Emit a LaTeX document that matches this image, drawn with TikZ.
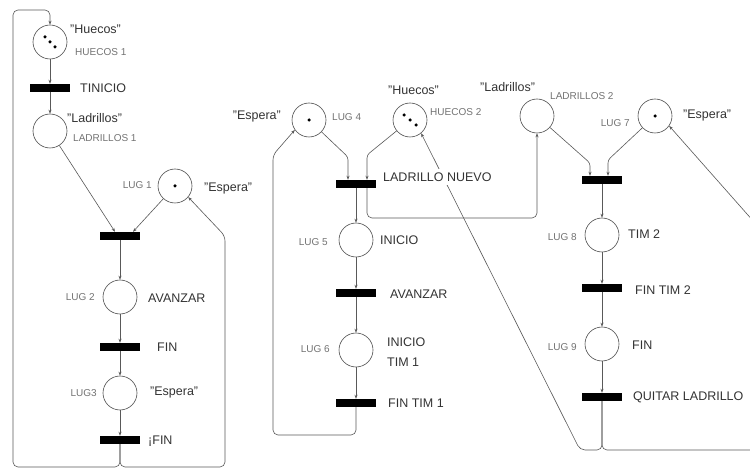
\documentclass[tikz,border=0pt]{standalone}
\usepackage{fontspec}
\setmainfont{Liberation Sans}
\usetikzlibrary{arrows.meta}
\begin{document}
\begin{tikzpicture}[x=1pt,y=-1pt,
 place/.style={circle,draw=black!70,line width=0.6pt,minimum size=34pt,inner sep=0pt},
 trans/.style={rectangle,fill=black,minimum width=40pt,minimum height=8pt,inner sep=0pt},
 arc/.style={draw=black!65,line width=0.6pt,-{Stealth[length=4pt,width=3pt]}},
 lbl/.style={font=\fontsize{12.5}{20}\selectfont,text=black!80,inner sep=0pt},
 sml/.style={font=\fontsize{10}{12}\selectfont,text=black!55,inner sep=0pt},
 tok/.style={circle,fill=black,inner sep=0pt,minimum size=3.5pt}]
\clip (0,0) rectangle (750,470);
\fill[white] (0,0) rectangle (750,470);
% left column
\node[place] (H1) at (50,42) {};
\node[trans] (T0) at (50,88) {};
\node[place] (L1) at (50,131) {};
\node[place] (P1) at (175,186) {};
\node[trans] (T1) at (120,236) {};
\node[place] (P2) at (120,297) {};
\node[trans] (T2) at (120,347) {};
\node[place] (P3) at (120,393) {};
\node[trans] (T3) at (120,440) {};
% middle column
\node[place] (P4) at (309,120) {};
\node[place] (H2) at (410,120) {};
\node[trans] (T4) at (356,184) {};
\node[place] (P5) at (356,240) {};
\node[trans] (T5) at (356,293) {};
\node[place] (P6) at (356,350) {};
\node[trans] (T6) at (356,403) {};
% right column
\node[place] (L2) at (537,116) {};
\node[place] (P7) at (655,116) {};
\node[trans] (T7) at (602,180) {};
\node[place] (P8) at (602,235) {};
\node[trans] (T8) at (602,288) {};
\node[place] (P9) at (602,344) {};
\node[trans] (T9) at (602,397) {};
% tokens
\node[tok] (k1) at (45,37) {};
\node[tok] (k2) at (50,42) {};
\node[tok] (k3) at (55,47) {};
\node[tok] (k4) at (404,115) {};
\node[tok] (k5) at (410,120) {};
\node[tok] (k6) at (416,125) {};
\node[tok] (k7) at (175,186) {};
\node[tok] (k8) at (309,120) {};
\node[tok] (k9) at (655,116) {};
% arcs left
\draw[arc] (H1) -- (T0);
\draw[arc] (T0) -- (L1);
\draw[arc] (L1) -- ([xshift=-5pt]T1.north);
\draw[arc] (P1) -- ([xshift=13pt]T1.north);
\draw[arc] (T1) -- (P2);
\draw[arc] (P2) -- (T2);
\draw[arc] (T2) -- (P3);
\draw[arc] (P3) -- (T3);
\draw[arc,rounded corners=5pt] (T3.south) |- (13,467) |- (50,10) -- (H1.north);
\draw[arc,rounded corners=5pt] (T3.south) |- (225,467) -- (225,236) -- (P1.-40);
% arcs middle
\draw[arc,rounded corners=3pt] (P4) -- (348,157) -- ([xshift=-8pt]T4.north);
\draw[arc,rounded corners=3pt] (H2) -- (367,155) -- ([xshift=11pt]T4.north);
\draw[arc] (T4) -- (P5);
\draw[arc,rounded corners=5pt] ([xshift=11pt]T4.south) |- (537,218) -- (L2.south);
\draw[arc] (P5) -- (T5);
\draw[arc] (T5) -- (P6);
\draw[arc] (P6) -- (T6);
\draw[arc,rounded corners=5pt] (T6.south) |- (273,435) -- (273,155) -- (P4.215);
% arcs right
\draw[arc,rounded corners=3pt] (L2) -- (590,163) -- ([xshift=-12pt]T7.north);
\draw[arc,rounded corners=3pt] (P7) -- (608,160) -- ([xshift=6pt]T7.north);
\draw[arc] (T7) -- (P8);
\draw[arc] (P8) -- (T8);
\draw[arc] (T8) -- (P9);
\draw[arc] (P9) -- (T9);
\draw[arc,rounded corners=5pt] (T9.south) |- (580,450) -- (H2.-50);
\draw[arc,rounded corners=5pt] (T9.south) |- (770,450) -- (770,240) -- (P7.-35);
% labels left
\node[lbl,anchor=west] (a1) at (70,29) {"Huecos"};
\node[sml,anchor=west] (a2) at (75,52) {HUECOS 1};
\node[lbl,anchor=west] (a3) at (80,88) {TINICIO};
\node[lbl,anchor=west] (a4) at (67,118) {"Ladrillos"};
\node[sml,anchor=west] (a5) at (73,138) {LADRILLOS 1};
\node[sml,anchor=east] (a6) at (152,185) {LUG 1};
\node[lbl,anchor=west] (a7) at (204,188) {"Espera"};
\node[sml,anchor=east] (a8) at (95,297) {LUG 2};
\node[lbl,anchor=west] (a9) at (148,298) {AVANZAR};
\node[lbl,anchor=west] (a10) at (157,347) {FIN};
\node[sml,anchor=east] (a11) at (97,393) {LUG3};
\node[lbl,anchor=west] (a12) at (150,392) {"Espera"};
\node[lbl,anchor=west] (a13) at (148,441) {¡FIN};
% labels middle
\node[lbl,anchor=east] (b1) at (281,117) {"Espera"};
\node[sml,anchor=west] (b2) at (332,117) {LUG 4};
\node[lbl,anchor=west] (b3) at (388,90) {"Huecos"};
\node[sml,anchor=west] (b4) at (430,112) {HUECOS 2};
\node[lbl,anchor=west,fill=white,inner sep=4pt] (b5) at (379,177) {LADRILLO NUEVO};
\node[sml,anchor=east] (b6) at (328,242) {LUG 5};
\node[lbl,anchor=west] (b7) at (380,240) {INICIO};
\node[lbl,anchor=west] (b8) at (390,294) {AVANZAR};
\node[sml,anchor=east] (b9) at (330,349) {LUG 6};
\node[lbl,anchor=west,align=left] (b10) at (387,352) {INICIO\\TIM 1};
\node[lbl,anchor=west] (b11) at (388,403) {FIN TIM 1};
% labels right
\node[lbl,anchor=west] (c1) at (480,87) {"Ladrillos"};
\node[sml,anchor=west] (c2) at (550,96) {LADRILLOS 2};
\node[sml,anchor=east] (c3) at (630,123) {LUG 7};
\node[lbl,anchor=west] (c4) at (683,115) {"Espera"};
\node[sml,anchor=east] (c5) at (577,237) {LUG 8};
\node[lbl,anchor=west] (c6) at (628,234) {TIM 2};
\node[lbl,anchor=west] (c7) at (635,290) {FIN TIM 2};
\node[sml,anchor=east] (c8) at (577,347) {LUG 9};
\node[lbl,anchor=west] (c9) at (632,345) {FIN};
\node[lbl,anchor=west] (c10) at (633,397) {QUITAR LADRILLO};
\end{tikzpicture}
\end{document}
